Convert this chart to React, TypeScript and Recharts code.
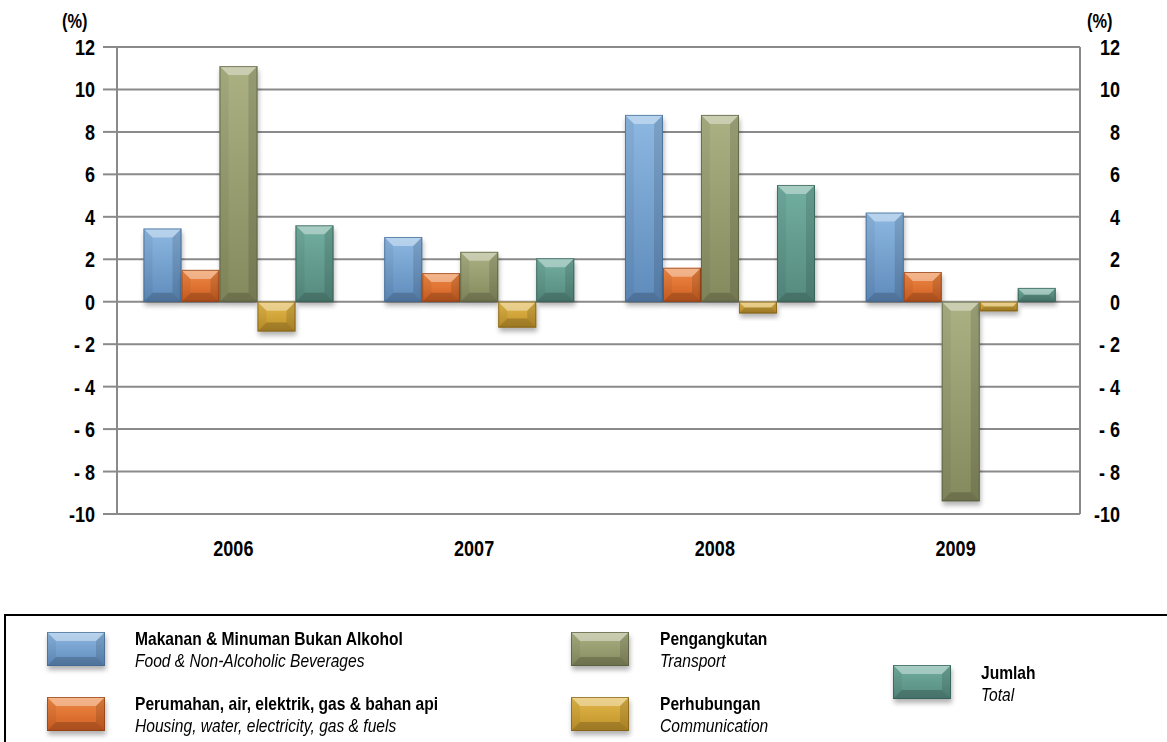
import { BarChart, Bar, XAxis, YAxis, CartesianGrid } from 'recharts'

const years = ['2006', '2007', '2008', '2009']
const food = [3.45, 3.05, 8.8, 4.2]
const housing = [1.5, 1.35, 1.6, 1.4]
const transport = [11.1, 2.35, 8.8, -9.4]
const communication = [-1.4, -1.22, -0.55, -0.45]
const total = [3.6, 2.05, 5.5, 0.65]
const yTicks = [-10, -8, -6, -4, -2, 0, 2, 4, 6, 8, 10, 12]

const SERIES = [
  { key: 'food', ms: 'Makanan & Minuman Bukan Alkohol', en: 'Food & Non-Alcoholic Beverages', light: '#8db8e2', dark: '#5f8bbb', edge: '#3f6690' },
  { key: 'housing', ms: 'Perumahan, air, elektrik, gas & bahan api', en: 'Housing, water, electricity, gas & fuels', light: '#f08a45', dark: '#cf5e22', edge: '#8f3c12' },
  { key: 'transport', ms: 'Pengangkutan', en: 'Transport', light: '#abb183', dark: '#858a5e', edge: '#55593a' },
  { key: 'communication', ms: 'Perhubungan', en: 'Communication', light: '#e2b84a', dark: '#c0922a', edge: '#7d5d12' },
  { key: 'total', ms: 'Jumlah', en: 'Total', light: '#72afa0', dark: '#558a7e', edge: '#2f5a50' },
]

const data = years.map((year, i) => ({
  year,
  food: food[i],
  housing: housing[i],
  transport: transport[i],
  communication: communication[i],
  total: total[i],
}))

// no Arial Narrow here, so Liberation Sans squeezed horizontally
const FONT = "'Liberation Sans', Arial, sans-serif"
const NARROW = 0.82
const GRID = '#8a8a8a'

// bevelled box, used for the bars and the legend swatches
function Bevel({ x, y, w, h, idx, shadow = true }: { x: number; y: number; w: number; h: number; idx: number; shadow?: boolean }) {
  const s = SERIES[idx]
  const b = Math.max(0, Math.min(9, h / 2, w / 2))
  return (
    <g>
      {shadow && (
        <rect x={x + 1} y={y + 4} width={w} height={h} fill="#000" opacity={0.3} filter="url(#barShadow)" />
      )}
      <rect x={x} y={y} width={w} height={h} fill={`url(#grad-${s.key})`} />
      <polygon points={`${x},${y} ${x + w},${y} ${x + w - b},${y + b} ${x + b},${y + b}`} fill="#fff" opacity={0.38} />
      <polygon points={`${x},${y + h} ${x + w},${y + h} ${x + w - b},${y + h - b} ${x + b},${y + h - b}`} fill="#000" opacity={0.18} />
      <polygon points={`${x},${y} ${x + b},${y + b} ${x + b},${y + h - b} ${x},${y + h}`} fill="#000" opacity={0.05} />
      <polygon points={`${x + w},${y} ${x + w - b},${y + b} ${x + w - b},${y + h - b} ${x + w},${y + h}`} fill="#000" opacity={0.12} />
      <rect x={x + 0.5} y={y + 0.5} width={Math.max(0, w - 1)} height={Math.max(0, h - 1)} fill="none" stroke={s.edge} strokeWidth={1} opacity={0.7} />
    </g>
  )
}

const makeShape = (idx: number) => (props: any) => {
  let { x, y, width, height } = props
  if (height < 0) {
    y = y + height
    height = -height
  }
  return <Bevel x={x} y={y} w={width} h={height} idx={idx} />
}

const fmtTick = (v: number) => (v < 0 && v !== -10 ? `- ${-v}` : `${v}`)

function NarrowText({ x, y, anchor, children, size = 22 }: { x: number; y: number; anchor: string; children: any; size?: number }) {
  return (
    <text
      transform={`translate(${x},${y}) scale(${NARROW},1)`}
      textAnchor={anchor}
      fontSize={size}
      fontWeight="bold"
      fill="#000"
      fontFamily={FONT}
    >
      {children}
    </text>
  )
}

// the right axis carries no series, so its labels are drawn with the left one's scale
const yTick = (p: any) => (
  <g>
    <NarrowText x={95} y={p.y + 8} anchor="end">{fmtTick(p.payload.value)}</NarrowText>
    <NarrowText x={1120} y={p.y + 8} anchor="end">{fmtTick(p.payload.value)}</NarrowText>
  </g>
)
const xTick = (p: any) => (
  <NarrowText x={p.x - 4} y={p.y + 34} anchor="middle">{p.payload.value}</NarrowText>
)

function LegendItem({ idx, x, y, sx, sy }: { idx: number; x: number; y: number; sx: number; sy: number }) {
  const s = SERIES[idx]
  return (
    <>
      <svg style={{ position: 'absolute', left: sx - 4, top: sy - 2, overflow: 'visible' }} width={70} height={46}>
        <Bevel x={4} y={2} w={58} h={34} idx={idx} />
      </svg>
      <div
        style={{
          position: 'absolute',
          left: x,
          top: y,
          fontSize: 19,
          lineHeight: '22px',
          color: '#000',
          whiteSpace: 'nowrap',
          transform: `scaleX(${NARROW})`,
          transformOrigin: 'left top',
        }}
      >
        <div style={{ fontWeight: 'bold' }}>{s.ms}</div>
        <div style={{ fontStyle: 'italic' }}>{s.en}</div>
      </div>
    </>
  )
}

export default function App() {
  return (
    <div style={{ position: 'absolute', left: 0, top: 0, width: 1167, height: 742, overflow: 'hidden', background: '#fff', fontFamily: FONT }}>
      <svg width={0} height={0} style={{ position: 'absolute' }}>
        <defs>
          {SERIES.map((s) => (
            <linearGradient key={s.key} id={`grad-${s.key}`} x1="0" y1="0" x2="0" y2="1">
              <stop offset="0%" stopColor={s.light} />
              <stop offset="100%" stopColor={s.dark} />
            </linearGradient>
          ))}
          <filter id="barShadow" x="-30%" y="-30%" width="160%" height="160%">
            <feGaussianBlur stdDeviation="2.5" />
          </filter>
        </defs>
      </svg>

      <svg width={1167} height={40} style={{ position: 'absolute', left: 0, top: 0 }}>
        <NarrowText x={62} y={28} anchor="start" size={20}>(%)</NarrowText>
        <NarrowText x={1087} y={28} anchor="start" size={20}>(%)</NarrowText>
      </svg>

      <BarChart
        width={1167}
        height={600}
        data={data}
        margin={{ top: 47, right: 0, bottom: 46, left: 0 }}
        barCategoryGap="11%"
        barGap={0}
        style={{ position: 'absolute', left: 0, top: 0 }}
      >
        <CartesianGrid vertical={false} stroke={GRID} strokeWidth={2} yAxisId="left" />
        <XAxis dataKey="year" axisLine={false} tickLine={false} height={40} tick={xTick} />
        <YAxis
          yAxisId="left"
          orientation="left"
          width={117}
          domain={[-10, 12]}
          ticks={yTicks}
          interval={0}
          tickSize={14}
          axisLine={{ stroke: GRID, strokeWidth: 2 }}
          tickLine={{ stroke: GRID, strokeWidth: 2 }}
          tick={yTick}
        />
        <YAxis
          yAxisId="right"
          orientation="right"
          width={87}
          domain={[-10, 12]}
          tick={false}
          tickLine={false}
          axisLine={{ stroke: GRID, strokeWidth: 2 }}
        />
        {SERIES.map((s, i) => (
          <Bar key={s.key} yAxisId="left" dataKey={s.key} shape={makeShape(i)} isAnimationActive={false} />
        ))}
      </BarChart>

      <div style={{ position: 'absolute', left: 4, top: 614, width: 1300, height: 300, border: '2.5px solid #000', boxSizing: 'border-box' }} />
      <LegendItem idx={0} sx={47} sy={632} x={135} y={628} />
      <LegendItem idx={1} sx={47} sy={697} x={135} y={693} />
      <LegendItem idx={2} sx={571} sy={632} x={660} y={628} />
      <LegendItem idx={3} sx={571} sy={697} x={660} y={693} />
      <LegendItem idx={4} sx={893} sy={665} x={981} y={662} />
    </div>
  )
}
